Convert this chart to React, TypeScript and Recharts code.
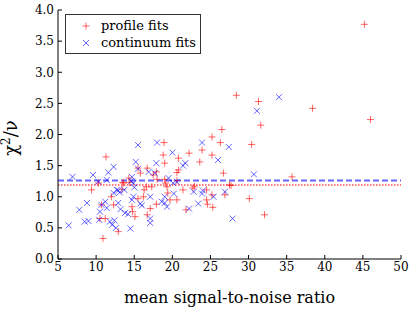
import React from 'react';
import {
  ScatterChart, Scatter, XAxis, YAxis, ReferenceLine, Legend,
} from 'recharts';

// profile fits (red +)
const profileX = [
  9.4, 10.3, 10.5, 10.9, 11.3, 10.7, 12.0, 12.9, 13.5, 13.4, 14.3, 14.7, 14.8, 15.5, 15.5,
  15.8, 15.1, 16.2, 16.3, 16.7, 17.1, 17.3, 17.5, 17.9, 18.0, 18.9, 18.8, 19.0, 19.0, 19.1,
  19.3, 19.4, 19.7, 20.6, 20.8, 20.8, 21.4, 21.8, 22.2, 22.7, 22.9, 23.6, 23.9, 24.5, 24.6,
  25.2, 25.2, 25.3, 26.3, 26.7, 26.9, 27.5, 26.5, 27.7, 28.4, 30.1, 30.4, 31.3, 31.6, 32.1,
  35.7, 38.4, 45.2, 46.0, 13.6, 14.4, 11.2, 12.3, 17.9, 16.7, 20.6, 24.5, 25.2, 16.6, 20.6,
];
const profileY = [
  1.11, 1.22, 0.65, 0.33, 1.64, 0.87, 1.0, 0.44, 1.23, 1.12, 1.3, 0.84, 0.76, 0.97, 1.46,
  1.38, 0.68, 1.0, 1.11, 1.46, 0.81, 1.16, 1.35, 1.4, 1.28, 1.87, 1.67, 1.54, 1.28, 1.22,
  1.16, 1.06, 0.95, 0.95, 1.43, 1.62, 1.11, 0.79, 1.7, 1.14, 1.17, 1.56, 1.75, 0.95, 0.88,
  1.96, 1.67, 0.83, 1.87, 1.38, 1.03, 1.19, 2.08, 1.18, 2.63, 0.97, 1.84, 2.53, 2.15, 0.71,
  1.32, 2.42, 3.77, 2.24, 1.22, 1.23, 0.65, 0.87, 0.88, 0.71, 1.39, 1.11, 1.03, 1.16, 1.26,
];

// continuum fits (blue x)
const continuumX = [
  6.4, 6.9, 7.8, 8.8, 8.5, 9.0, 9.6, 10.3, 10.5, 10.4, 10.7, 11.6, 12.3, 11.2, 11.4,
  11.8, 12.1, 12.4, 12.6, 12.9, 13.1, 12.9, 13.2, 13.8, 13.7, 14.2, 14.5, 14.7, 14.9, 14.6,
  15.2, 15.5, 14.7, 14.9, 15.8, 16.0, 16.9, 17.1, 17.1, 17.1, 17.9, 18.0, 18.6, 19.0, 19.3,
  19.5, 20.0, 20.1, 20.2, 20.6, 21.4, 21.7, 22.2, 22.8, 23.4, 23.9, 24.0, 25.4, 26.0, 26.9,
  27.4, 27.9, 30.7, 31.1, 34.0, 11.4, 12.7, 12.3, 15.0, 15.5, 17.7, 19.0, 23.9,
];
const continuumY = [
  0.54, 1.32, 0.79, 0.9, 0.6, 0.61, 1.35, 1.24, 0.76, 0.63, 0.87, 1.39, 1.48, 0.92, 0.82,
  0.6, 0.55, 0.62, 0.5, 1.1, 1.07, 0.9, 0.8, 0.74, 1.11, 0.72, 0.49, 1.32, 1.22, 1.25,
  1.56, 1.83, 0.95, 1.0, 0.89, 0.86, 1.4, 1.0, 0.65, 0.58, 1.54, 1.87, 0.92, 0.9, 0.84,
  1.3, 1.71, 1.22, 1.05, 1.24, 1.5, 1.54, 0.81, 1.08, 0.89, 1.87, 1.1, 1.0, 1.59, 1.08,
  1.8, 0.65, 1.36, 2.38, 2.6, 1.27, 1.11, 1.06, 1.15, 1.45, 1.38, 1.0, 1.05,
];

const xTicks = [5, 10, 15, 20, 25, 30, 35, 40, 45, 50];
const yTicks = [0, 0.5, 1, 1.5, 2, 2.5, 3, 3.5, 4];

const continuumMean = 1.26;
const profileMean = 1.19;

const profileData = profileX.map((x, i) => ({ x, y: profileY[i] }));
const continuumData = continuumX.map((x, i) => ({ x, y: continuumY[i] }));

const FONT = "'DejaVu Serif', 'Times New Roman', serif";
const RED = 'rgba(255,0,0,0.6)';
const BLUE = 'rgba(0,0,255,0.6)';

const Plus = (props: any) => {
  const { cx, cy } = props;
  const s = 3.5;
  return (
    <g stroke={RED} strokeWidth={1}>
      <line x1={cx - s} y1={cy} x2={cx + s} y2={cy} />
      <line x1={cx} y1={cy - s} x2={cx} y2={cy + s} />
    </g>
  );
};

const Cross = (props: any) => {
  const { cx, cy } = props;
  const s = 3;
  return (
    <g stroke={BLUE} strokeWidth={1}>
      <line x1={cx - s} y1={cy - s} x2={cx + s} y2={cy + s} />
      <line x1={cx - s} y1={cy + s} x2={cx + s} y2={cy - s} />
    </g>
  );
};

const LegendBox = () => (
  <div style={{
    border: '1px solid #333', background: '#fff', width: 134, padding: '2px 0',
    fontFamily: FONT, fontSize: 13, lineHeight: '17px',
  }}>
    {[['profile fits', 'plus'], ['continuum fits', 'cross']].map(([name, kind]) => (
      <div key={name} style={{ display: 'flex', alignItems: 'center' }}>
        <svg width={35} height={17}>
          {kind === 'plus' ? <Plus cx={20} cy={9} /> : <Cross cx={20} cy={9} />}
        </svg>
        <span>{name}</span>
      </div>
    ))}
  </div>
);

const tickStyle = { fontFamily: FONT, fontSize: 12, fill: '#000' };

export default function App() {
  return (
    <div style={{ position: 'absolute', left: 0, top: 0, width: 415, height: 312, background: '#fff', fontFamily: FONT }}>
      <ScatterChart width={415} height={312} margin={{ top: 10, right: 14, bottom: 0, left: 0 }}>
        <XAxis
          xAxisId="b" dataKey="x" type="number" domain={[5, 50]} ticks={xTicks}
          height={53} tickSize={-4} tickMargin={7} tick={tickStyle}
          axisLine={{ stroke: '#000' }} tickLine={{ stroke: '#000' }}
          label={{
            content: (p: any) => (
              <text x={p.viewBox.x + p.viewBox.width / 2} y={p.viewBox.y + 44} textAnchor="middle"
                style={{ fontFamily: FONT }} fontSize={16} fill="#000">mean signal-to-noise ratio</text>
            ),
          }}
        />
        <XAxis
          xAxisId="t" orientation="top" type="number" domain={[5, 50]} ticks={xTicks}
          height={0} tickSize={-4} tick={false}
          axisLine={{ stroke: '#000' }} tickLine={{ stroke: '#000' }}
        />
        <YAxis
          yAxisId="l" dataKey="y" type="number" domain={[0, 4]} ticks={yTicks}
          width={58} tickSize={-4} tickMargin={8} tick={tickStyle}
          tickFormatter={(v: number) => v.toFixed(1)}
          axisLine={{ stroke: '#000' }} tickLine={{ stroke: '#000' }}
          label={{
            content: () => (
              <text x={17} y={138} textAnchor="middle" transform="rotate(-90, 17, 138)"
                style={{ fontFamily: FONT }} fontSize={18} fill="#000">
                χ<tspan dy={-7} fontSize={12}>2</tspan><tspan dy={7}>/ν</tspan>
              </text>
            ),
          }}
        />
        <YAxis
          yAxisId="r" orientation="right" type="number" domain={[0, 4]} ticks={yTicks}
          width={0} tickSize={-4} tick={false}
          axisLine={{ stroke: '#000' }} tickLine={{ stroke: '#000' }}
        />
        <ReferenceLine xAxisId="b" yAxisId="l" y={continuumMean} stroke="rgba(0,0,255,0.6)"
          strokeWidth={2} strokeDasharray="6 3" />
        <ReferenceLine xAxisId="b" yAxisId="l" y={profileMean} stroke="rgba(255,0,0,0.7)"
          strokeWidth={1.5} strokeDasharray="1.5 1.5" />
        <Scatter name="profile fits" data={profileData} xAxisId="b" yAxisId="l"
          shape={Plus} isAnimationActive={false} />
        <Scatter name="continuum fits" data={continuumData} xAxisId="b" yAxisId="l"
          shape={Cross} isAnimationActive={false} />
        <Legend layout="vertical" verticalAlign="middle" align="center"
          wrapperStyle={{ top: 14, left: 65, width: 'auto' }} content={() => <LegendBox />} />
      </ScatterChart>
    </div>
  );
}
